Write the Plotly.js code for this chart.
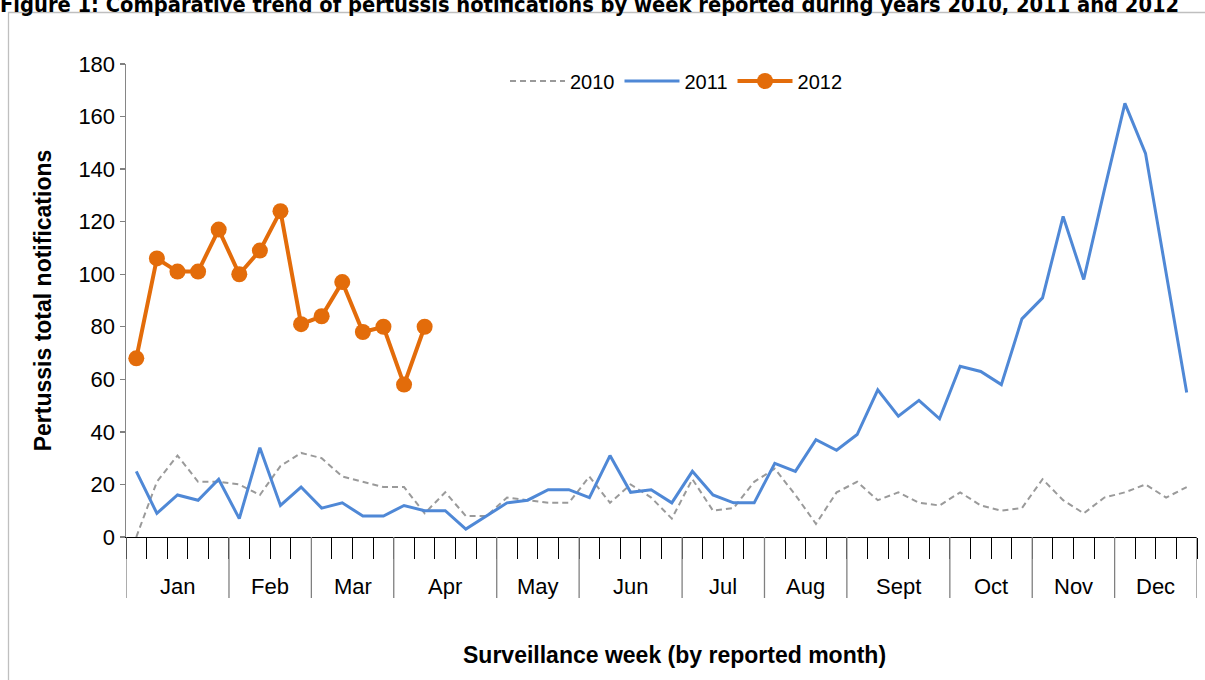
<!DOCTYPE html>
<html>
<head>
<meta charset="utf-8">
<script src="https://cdn.plot.ly/plotly-3.0.1.min.js"></script>
<style>
  html, body { margin: 0; padding: 0; background: #ffffff; }
  #chart { width: 1205px; height: 680px; }
</style>
</head>
<body>
<div id="chart"></div>
<script>
// ---- Data ----
const months = ['Jan', 'Feb', 'Mar', 'Apr', 'May', 'Jun', 'Jul', 'Aug', 'Sept', 'Oct', 'Nov', 'Dec'];
const weeksPerMonth = [5, 4, 4, 5, 4, 5, 4, 4, 5, 4, 4, 4];
const y2010 = [0, 21, 31, 21, 21, 20, 16, 27, 32, 30, 23, 21, 19, 19, 9, 17, 8,
  8, 15, 14, 13, 13, 23, 13, 20, 15, 7, 22, 10, 11, 21, 26,
  16, 5, 17, 21, 14, 17, 13, 12, 17, 12, 10, 11, 22, 14, 9, 15, 17, 20, 15, 19];
const y2011 = [25, 9, 16, 14, 22, 7, 34, 12, 19, 11, 13, 8, 8, 12, 10, 10, 3,
  8, 13, 14, 18, 18, 15, 31, 17, 18, 13, 25, 16, 13, 13, 28,
  25, 37, 33, 39, 56, 46, 52, 45, 65, 63, 58, 83, 91, 122, 98, 132, 165, 146, 101, 55];
const y2012 = [68, 106, 101, 101, 117, 100, 109, 124, 81, 84, 97, 78, 80, 58, 80];
const yTicks = [0, 20, 40, 60, 80, 100, 120, 140, 160, 180];

// ---- Derived ----
const nWeeks = weeksPerMonth.reduce((a, b) => a + b, 0);
const weeksOf = arr => arr.map((_, i) => i + 1);
const boundaries = [0.5];
weeksPerMonth.forEach(n => boundaries.push(boundaries[boundaries.length - 1] + n));
const monthCenters = weeksPerMonth.map((n, i) => boundaries[i] + n / 2);

const FONT = 'Liberation Sans, Arial, sans-serif';
const PLOT_H = 680 - 64 - 143;

const traces = [
  { name: '2010', x: weeksOf(y2010), y: y2010, type: 'scatter', mode: 'lines',
    line: { color: '#9a9a9a', width: 2, dash: '6px,4px' }, hoverinfo: 'skip' },
  { name: '2011', x: weeksOf(y2011), y: y2011, type: 'scatter', mode: 'lines',
    line: { color: '#4f88d6', width: 3 }, hoverinfo: 'skip' },
  { name: '2012', x: weeksOf(y2012), y: y2012, type: 'scatter', mode: 'lines+markers',
    line: { color: '#e36c0a', width: 4 }, marker: { color: '#e36c0a', size: 16 }, hoverinfo: 'skip' }
];

const annotations = months.map((m, i) => ({
  text: m, x: monthCenters[i], xref: 'x', y: 0, yref: 'paper',
  yanchor: 'middle', xanchor: 'center', yshift: -49, showarrow: false,
  font: { family: FONT, size: 22, color: '#000000' }
}));
annotations.push({
  text: '<b>Surveillance week (by reported month)</b>',
  x: (674 - 126) / 1071, xref: 'paper', y: 0, yref: 'paper',
  xanchor: 'center', yanchor: 'middle', yshift: -118, showarrow: false,
  font: { family: FONT, size: 23, color: '#000000' }
});

const dividers = boundaries.map(b => ({
  type: 'line', xref: 'x', yref: 'paper', x0: b, x1: b, y0: 0, y1: -61 / PLOT_H,
  line: { color: '#808080', width: 1.3 }
}));

const layout = {
  width: 1205, height: 680,
  paper_bgcolor: '#ffffff', plot_bgcolor: '#ffffff',
  margin: { l: 126, r: 8, t: 64, b: 143 },
  font: { family: FONT, color: '#000000' },
  title: {
    text: '<b>Figure 1: Comparative trend of pertussis notifications by week reported during years 2010, 2011 and 2012</b>',
    x: 0, xref: 'container', xanchor: 'left',
    y: 0.983, yref: 'container', yanchor: 'bottom',
    font: { family: 'Liberation Sans Narrow, DejaVu Sans Condensed, Liberation Sans, sans-serif', size: 21.7, color: '#000000' }
  },
  showlegend: true,
  legend: {
    orientation: 'h', x: 0.514, xanchor: 'center', y: 0.964, yanchor: 'middle',
    itemwidth: 55, tracegroupgap: 0,
    font: { family: FONT, size: 20, color: '#000000' }, bgcolor: 'rgba(0,0,0,0)'
  },
  xaxis: {
    range: [0.5, nWeeks + 0.5], tickmode: 'linear', tick0: 0.5, dtick: 1,
    ticks: 'outside', ticklen: 21, tickcolor: '#000000', tickwidth: 1,
    showticklabels: false, showgrid: false, zeroline: false,
    showline: true, linecolor: '#000000', linewidth: 1.3
  },
  yaxis: {
    range: [0, 180], tickmode: 'array', tickvals: yTicks,
    ticks: 'outside', ticklen: 5, tickcolor: '#808080', tickwidth: 1.3,
    showgrid: false, zeroline: false, showline: true, linecolor: '#868686', linewidth: 1.5,
    tickfont: { family: FONT, size: 22, color: '#000000' },
    title: { text: '<b>Pertussis total notifications</b>', standoff: 20,
      font: { family: FONT, size: 23, color: '#000000' } }
  },
  annotations: annotations,
  shapes: [{
    type: 'rect', xref: 'paper', yref: 'paper',
    x0: (8.5 - 126) / 1071, x1: 1.2, y0: (537 - 12.5) / PLOT_H, y1: -0.5,
    line: { color: '#bfbfbf', width: 1.3 }, fillcolor: 'rgba(0,0,0,0)', layer: 'below'
  }].concat(dividers)
};

Plotly.newPlot('chart', traces, layout, { staticPlot: true, displayModeBar: false });
</script>
</body>
</html>
